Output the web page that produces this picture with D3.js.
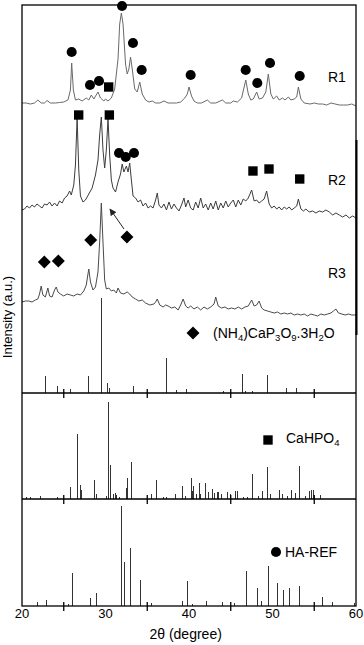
<!DOCTYPE html>
<html>
<head>
<meta charset="utf-8">
<script src="https://cdn.jsdelivr.net/npm/d3@7"></script>
<style>
body { margin: 0; background: #fff; }
svg { display: block; font-family: "Liberation Sans", Arial, sans-serif; }
</style>
</head>
<body>
<svg id="xrd" width="364" height="645"></svg>
<script>
// x axis
var tickLabels = [20, 30, 40, 50, 60];
var minorTicks = [25, 35, 45, 55];

// measured patterns: [2theta, counts above own baseline]
var r1 = [[20.0,1],[20.5,1],[21.0,0],[21.5,1],[21.9,4],[22.3,1],[22.7,1],[23.0,3.5],[23.4,1],[24.0,1],[24.5,1.5],[25.0,2],[25.5,4],
  [25.8,14],[25.95,41],[26.15,14],[26.4,4],[26.8,5],[27.2,3],[27.7,6],[28.0,4],[28.3,9],[28.6,5],[29.1,12],[29.4,6],[29.8,3],
  [30.0,5],[30.3,3],[30.7,6],[31.1,15],[31.5,45],[31.7,80],[31.9,91],[32.1,80],[32.4,40],[32.6,30],[32.8,35],[33.0,47],[33.2,35],
  [33.5,15],[33.8,12],[34.1,22],[34.4,10],[34.8,4],[35.2,2],[35.6,3],[36.0,1],[36.5,1],[37.0,3],[37.5,1],[38.0,1],[38.5,1],
  [39.0,2],[39.5,6],[39.8,10],[40.0,17],[40.3,8],[40.6,3],[41.0,1],[41.5,1],[42.2,4],[42.6,1],[43.2,1],[44.0,4],[44.4,1],[45.0,1],
  [45.3,3],[45.8,2],[46.3,6],[46.8,24],[47.1,10],[47.4,4],[47.7,5],[48.1,12],[48.4,5],[48.8,6],[49.2,12],[49.5,30],[49.8,10],
  [50.1,5],[50.5,8],[50.8,4],[51.2,6],[51.5,4],[51.9,7],[52.2,4],[52.6,5],[52.9,7],[53.1,17],[53.4,5],[53.8,1],[54.5,0],[55.0,1],
  [55.5,0],[56.0,0],[56.5,-1],[57.0,1],[57.5,0],[58.0,-1],[58.5,-1],[59.0,-1],[59.5,0],[60.0,-2]];

var r2 = [[20.0,0],[20.3,1],[20.6,4],[20.9,2],[21.2,5],[21.5,3],[21.8,6],[22.1,4],[22.4,2],[22.7,6],[23.0,5],[23.3,8],[23.6,4],
  [23.9,7],[24.2,4],[24.5,9],[24.8,7],[25.1,12],[25.4,14],[25.7,19],[25.9,15],[26.2,25],[26.4,45],[26.6,92],[26.8,40],[27.0,14],
  [27.3,8],[27.6,10],[28.0,16],[28.4,22],[28.8,35],[29.1,50],[29.3,75],[29.5,93],[29.7,60],[29.9,42],[30.1,60],[30.3,91],[30.5,55],
  [30.7,30],[30.9,22],[31.2,18],[31.5,28],[31.8,36],[32.0,46],[32.2,38],[32.5,44],[32.7,38],[32.9,47],[33.1,30],[33.3,14],[33.6,12],
  [33.9,8],[34.2,10],[34.5,4],[34.8,7],[35.1,2],[35.4,4],[35.7,2],[36.0,10],[36.2,17],[36.4,5],[36.7,2],[37.0,6],[37.3,0],[37.6,8],
  [37.9,1],[38.2,6],[38.5,2],[38.8,-1],[39.1,5],[39.4,12],[39.6,3],[39.9,10],[40.2,2],[40.5,0],[40.8,8],[41.1,2],[41.4,12],[41.7,2],
  [42.0,6],[42.3,0],[42.6,7],[42.9,1],[43.2,9],[43.5,0],[43.8,7],[44.1,2],[44.4,9],[44.7,3],[45.0,7],[45.3,10],[45.6,3],[45.9,10],
  [46.2,5],[46.5,11],[46.8,9],[47.1,12],[47.5,20],[47.8,9],[48.1,10],[48.4,7],[48.7,9],[49.0,11],[49.3,19],[49.6,6],[49.9,2],
  [50.2,4],[50.5,1],[50.8,3],[51.1,0],[51.4,3],[51.7,1],[52.0,3],[52.3,0],[52.6,2],[52.9,4],[53.1,11],[53.4,1],[53.7,-1],[54.0,1],
  [54.4,-2],[54.8,-1],[55.2,-3],[55.6,-1],[56.0,-2],[56.4,0],[56.8,-2],[57.2,-5],[57.6,-3],[58.0,-5],[58.4,-7],[58.8,-5],[59.2,-8],
  [59.6,-6],[60.0,-8]];

var r3 = [[20.0,0],[20.4,1],[20.8,1],[21.2,0],[21.6,2],[21.9,3],[22.1,8],[22.3,16],[22.5,7],[22.8,5],[23.1,14],[23.3,6],[23.6,5],
  [23.9,12],[24.1,15],[24.3,10],[24.6,8],[25.0,6],[25.4,8],[25.8,7],[26.2,6],[26.6,8],[27.0,7],[27.4,11],[27.7,17],[27.9,28],
  [28.0,33],[28.2,20],[28.5,12],[28.8,15],[29.1,30],[29.3,60],[29.5,99],[29.7,60],[29.9,22],[30.1,13],[30.4,14],[30.7,11],[31.0,12],
  [31.3,9],[31.5,14],[31.8,9],[32.2,8],[32.6,10],[32.9,8],[33.2,5],[33.6,3],[34.0,1],[34.4,2],[34.8,-1],[35.3,-3],[35.8,-2],[36.0,0],
  [36.2,3],[36.5,-3],[36.9,-5],[37.2,-3],[37.5,-4],[37.9,-6],[38.3,-5],[38.7,-8],[39.0,-3],[39.3,3],[39.6,-4],[39.9,-6],[40.2,-4],
  [40.6,-7],[41.0,-5],[41.4,-8],[41.8,-5],[42.2,-7],[42.6,-5],[43.0,-2],[43.2,5],[43.5,-4],[43.9,-6],[44.3,-5],[44.7,-7],[45.1,-6],
  [45.5,-7],[45.9,-5],[46.3,-7],[46.7,-5],[47.1,-4],[47.5,2],[47.8,-4],[48.1,-3],[48.4,1],[48.7,-6],[49.0,-8],[49.4,-9],[49.8,-10],
  [50.2,-11],[50.6,-10],[51.0,-12],[51.4,-11],[51.8,-12],[52.2,-11],[52.6,-13],[53.0,-12],[53.4,-13],[53.8,-12],[54.2,-14],
  [54.6,-12],[55.0,-13],[55.4,-14],[55.8,-12],[56.2,-13],[56.6,-12],[57.0,-11],[57.3,-9],[57.6,-7],[57.9,-11],[58.3,-12],
  [58.7,-13],[59.1,-12],[59.5,-13],[60.0,-13]];

// vertical offsets of the stacked patterns (a.u.)
var r1Offset = 289;
var r2Offset = 183;
var r3Offset = 91;

// reference stick patterns: [2theta, intensity]
var nhRef = [[22.7,17],[24.2,7],[25.8,4],[27.9,17],[29.5,95],[30.2,10],[30.4,5],[33.3,7],[37.3,35],[38.4,3],[39.7,4],
  [44.1,2],[46.3,19],[46.7,2],[47.5,2],[49.4,18],[51.6,5],[52.8,5]];
var cahpoRef = [[20.5,2],[20.9,2],[22.1,3],[24.2,2],[25.7,12],[26.6,65],[26.9,14],[27.1,9],[28.6,19],[28.9,5],[30.0,3],
  [30.3,97],[30.5,34],[30.9,5],[31.1,6],[31.3,4],[31.6,2],[32.5,11],[32.6,21],[33.0,37],[35.5,5],[36.0,19],[36.1,3],[36.9,2],
  [37.3,2],[38.3,5],[39.2,13],[39.5,3],[40.2,21],[40.3,8],[40.5,13],[40.8,5],[41.2,16],[41.3,5],[41.9,16],[42.3,7],[42.8,10],
  [43.0,6],[43.3,7],[43.5,7],[43.8,5],[44.6,7],[44.9,5],[45.5,8],[45.7,8],[46.5,2],[47.0,2],[47.5,25],[48.3,3],[48.8,8],
  [49.3,32],[49.7,5],[50.8,9],[51.1,5],[51.7,3],[52.2,9],[52.7,6],[53.2,33],[53.9,3],[54.4,8],[54.6,9],[54.8,9],[55.7,4]];
var haRef = [[21.8,4],[22.9,6],[25.5,2],[26.0,33],[28.1,8],[28.9,13],[31.8,100],[32.2,44],[32.9,58],[34.1,26],[35.5,3],
  [39.2,5],[39.8,25],[40.4,2],[42.0,5],[43.9,4],[45.4,3],[46.8,35],[48.1,18],[48.6,5],[49.5,40],[50.5,23],[51.3,16],[52.0,18],
  [53.2,20],[55.9,9],[57.1,4],[59.8,3]];

// phase markers on the top panel: [2theta, intensity]
var haMarks = [[25.95,341],[28.14,308],[29.22,312],[31.98,387],[33.29,350],[34.33,323],[40.2,318],[46.79,323],[48.18,310],
  [49.7,330],[53.26,317],[31.62,240],[32.42,236],[33.41,240]];
var cahpoMarks = [[30.38,306],[26.79,278],[30.46,278],[47.66,222],[49.58,224],[53.26,214]];
var nhMarks = [[22.67,131],[24.35,132],[28.23,153],[32.57,156]];

var sampleLabels = [["R1", 311], ["R2", 208], ["R3", 115]];

var svg = d3.select('#xrd');

var x = d3.scaleLinear().domain([20, 60]).range([22, 356]);
var yTop = d3.scaleLinear().domain([0, 388]).range([393, 5]);
var yMid = d3.scaleLinear().domain([0, 106]).range([499, 393]);
var yBot = d3.scaleLinear().domain([0, 107]).range([606, 499]);

var line = d3.line().x(d => x(d[0])).y(d => d[1]);

function drawPattern(pts, offset, color) {
    svg.append('path')
        .datum(pts.map(d => [d[0], yTop(d[1] + offset)]))
        .attr('d', line)
        .attr('fill', 'none')
        .attr('stroke', color)
        .attr('stroke-width', 1)
        .attr('stroke-linejoin', 'round');
}

drawPattern(r1, r1Offset, '#6a6a6a');
drawPattern(r2, r2Offset, '#3c3c3c');
drawPattern(r3, r3Offset, '#4a4a4a');

function drawSticks(data, yScale) {
    svg.append('g')
        .selectAll('line')
        .data(data)
        .join('line')
        .attr('x1', d => Math.round(x(d[0])) + 0.5)
        .attr('x2', d => Math.round(x(d[0])) + 0.5)
        .attr('y1', yScale(0))
        .attr('y2', d => yScale(d[1]))
        .attr('stroke', '#333')
        .attr('stroke-width', 1);
}

drawSticks(nhRef, yTop);
drawSticks(cahpoRef, yMid);
drawSticks(haRef, yBot);

// frame
var frame = svg.append('g').attr('stroke', '#000').attr('fill', 'none');
frame.append('rect')
    .attr('x', x(20)).attr('y', yTop(388))
    .attr('width', x(60) - x(20)).attr('height', yBot(0) - yTop(388))
    .attr('stroke-width', 1.3);
[yTop(0), yMid(0)].forEach(function(yy) {
    frame.append('line')
        .attr('x1', x(20)).attr('x2', x(60))
        .attr('y1', yy).attr('y2', yy)
        .attr('stroke-width', 1.3);
});
frame.append('line')
    .attr('x1', x(60) + 0.5).attr('x2', x(60) + 0.5)
    .attr('y1', 140).attr('y2', 335)
    .attr('stroke-width', 2);

// crossing minor ticks on every panel baseline
[yTop(0), yMid(0), yBot(0)].forEach(function(yy) {
    svg.append('g')
        .selectAll('line')
        .data(minorTicks)
        .join('line')
        .attr('x1', d => x(d)).attr('x2', d => x(d))
        .attr('y1', yy - 4).attr('y2', yy + 5)
        .attr('stroke', '#000')
        .attr('stroke-width', 1.3);
});

svg.append('g')
    .selectAll('text')
    .data(tickLabels)
    .join('text')
    .attr('x', d => x(d))
    .attr('y', 618)
    .attr('text-anchor', 'middle')
    .attr('font-size', '13px')
    .text(d => d);

svg.append('text')
    .attr('x', x(39.6))
    .attr('y', 639)
    .attr('text-anchor', 'middle')
    .attr('font-size', '14px')
    .text('2\u03b8 (degree)');

svg.append('text')
    .attr('transform', 'translate(12,317) rotate(-90)')
    .attr('text-anchor', 'middle')
    .attr('font-size', '13px')
    .text('Intensity (a.u.)');

// markers
var circleSym = d3.symbol().type(d3.symbolCircle).size(80);
var squareSym = d3.symbol().type(d3.symbolSquare).size(88);
var diamondSym = d3.symbol().type(d3.symbolSquare).size(84);

svg.append('g').selectAll('path').data(haMarks).join('path')
    .attr('d', circleSym)
    .attr('transform', d => 'translate(' + x(d[0]) + ',' + yTop(d[1]) + ')')
    .attr('fill', '#000');
svg.append('g').selectAll('path').data(cahpoMarks).join('path')
    .attr('d', squareSym)
    .attr('transform', d => 'translate(' + x(d[0]) + ',' + yTop(d[1]) + ')')
    .attr('fill', '#000');
svg.append('g').selectAll('path').data(nhMarks).join('path')
    .attr('d', diamondSym)
    .attr('transform', d => 'translate(' + x(d[0]) + ',' + yTop(d[1]) + ') rotate(45)')
    .attr('fill', '#000');

// arrow pointing at the R3 main peak
svg.append('defs').append('marker')
    .attr('id', 'head')
    .attr('viewBox', '0 0 10 10')
    .attr('refX', 9).attr('refY', 5)
    .attr('markerWidth', 7).attr('markerHeight', 7)
    .attr('orient', 'auto')
    .append('path')
    .attr('d', 'M0,0L10,5L0,10z')
    .attr('fill', '#222');
svg.append('line')
    .attr('x1', x(32.22)).attr('y1', yTop(164))
    .attr('x2', x(30.54)).attr('y2', yTop(184))
    .attr('stroke', '#222')
    .attr('stroke-width', 1)
    .attr('marker-end', 'url(#head)');

// sample labels
svg.append('g').selectAll('text').data(sampleLabels).join('text')
    .attr('x', 328)
    .attr('y', d => yTop(d[1]))
    .attr('font-size', '14px')
    .text(d => d[0]);

// legends
function legendText(xx, yy, parts) {
    var t = svg.append('text')
        .attr('x', xx).attr('y', yy)
        .attr('font-size', '14px');
    var prevSub = false;
    parts.forEach(function(p) {
        var s = t.append('tspan').text(p[0]);
        if (p[1] && !prevSub) s.attr('dy', 3).attr('font-size', '9.5px');
        else if (p[1]) s.attr('font-size', '9.5px');
        else if (prevSub) s.attr('dy', -3);
        prevSub = !!p[1];
    });
}

svg.append('path')
    .attr('d', diamondSym)
    .attr('transform', 'translate(193,' + yTop(60) + ') rotate(45)')
    .attr('fill', '#000');
legendText(213, yTop(55), [['(NH',0],['4',1],[')CaP',0],['3',1],['O',0],['9',1],['.3H',0],['2',1],['O',0]]);

svg.append('path')
    .attr('d', squareSym)
    .attr('transform', 'translate(268,' + yMid(59) + ')')
    .attr('fill', '#000');
legendText(286, yMid(56), [['CaHPO',0],['4',1]]);

svg.append('path')
    .attr('d', circleSym)
    .attr('transform', 'translate(276,' + yBot(54) + ')')
    .attr('fill', '#000');
legendText(285, yBot(49.5), [['HA-REF',0]]);
</script>
</body>
</html>
